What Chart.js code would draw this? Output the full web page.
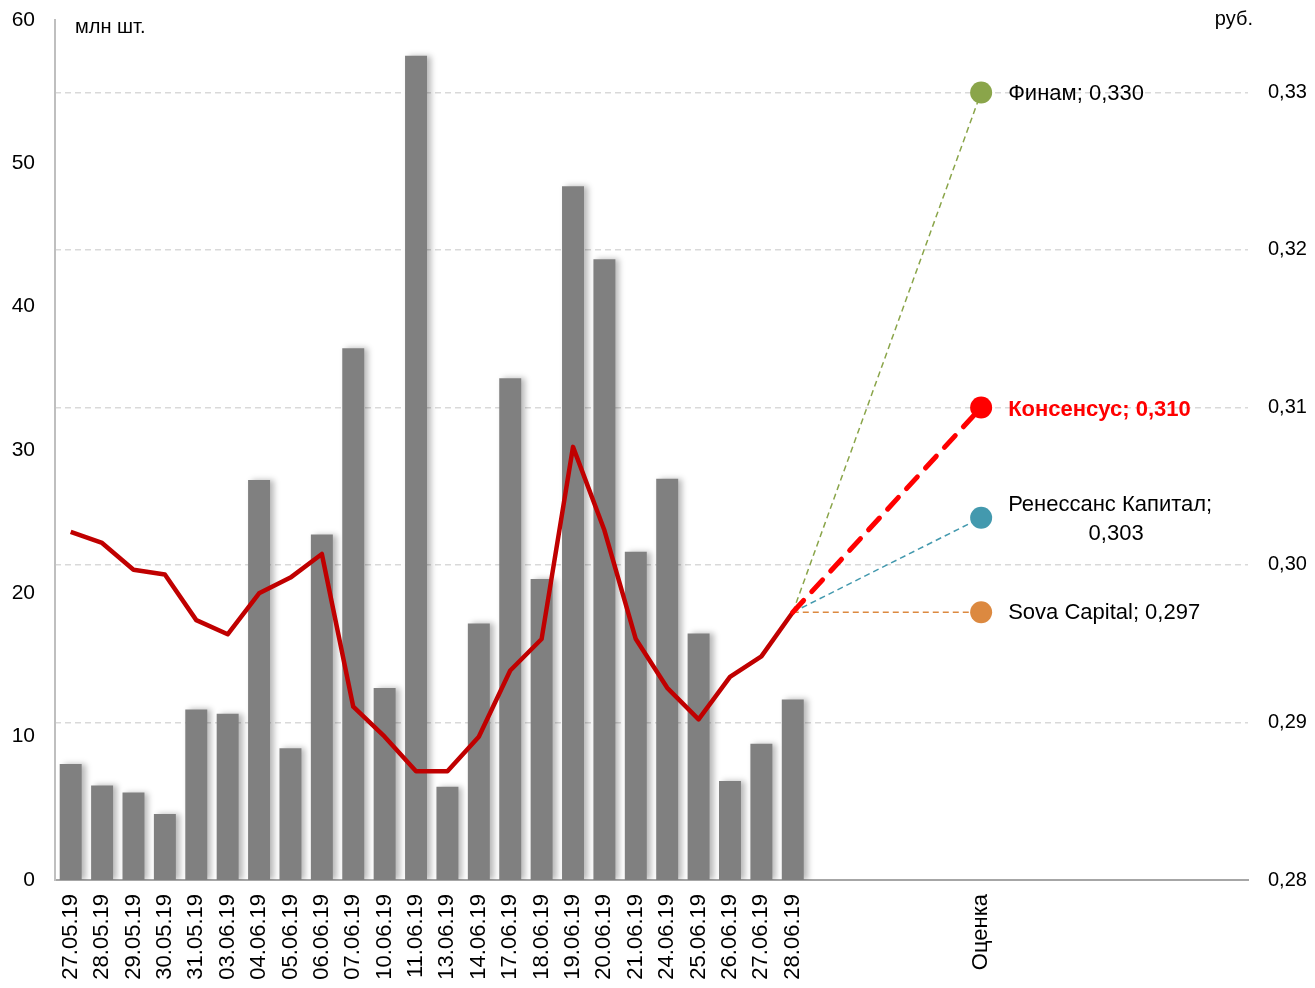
<!DOCTYPE html>
<html>
<head>
<meta charset="utf-8">
<script src="https://cdn.jsdelivr.net/npm/chart.js@4"></script>
<style>
  html, body { margin: 0; padding: 0; background: #fff; }
  #wrap { width: 1315px; height: 988px; }
</style>
</head>
<body>
<div id="wrap"><canvas id="chart" width="1315" height="988"></canvas></div>
<script>
// даты торгов + пустые слоты + "Оценка"
const dates = ['27.05.19', '28.05.19', '29.05.19', '30.05.19', '31.05.19', '03.06.19', '04.06.19', '05.06.19',
  '06.06.19', '07.06.19', '10.06.19', '11.06.19', '13.06.19', '14.06.19', '17.06.19', '18.06.19',
  '19.06.19', '20.06.19', '21.06.19', '24.06.19', '25.06.19', '26.06.19', '27.06.19', '28.06.19']
const labels = dates.concat(['', '', '', '', '', 'Оценка', '', '', '', '', '', '', '', ''])

// объём торгов, млн шт.
const volume = [8.1, 6.6, 6.1, 4.6, 11.9, 11.6, 27.9, 9.2, 24.1, 37.1, 13.4, 57.5, 6.5, 17.9, 35.0, 21.0,
  48.4, 43.3, 22.9, 28.0, 17.2, 6.9, 9.5, 12.6]
// цена, руб.
const price = [0.3021, 0.3014, 0.2997, 0.2994, 0.2965, 0.2956, 0.2982, 0.2992, 0.3007, 0.2910, 0.2891, 0.2869,
  0.2869, 0.2891, 0.2933, 0.2953, 0.3075, 0.3022, 0.2953, 0.2922, 0.2902, 0.2929, 0.2942, 0.2970]

// оценки аналитиков
const targetNames = ['Финам', 'Консенсус', 'Ренессанс Капитал', 'Sova Capital']
const targetValues = [0.330, 0.310, 0.303, 0.297]
const targetColors = ['#8AA54A', '#FF0000', '#4399AE', '#DC8940']
const rightTicks = [0.28, 0.29, 0.30, 0.31, 0.32, 0.33]

const estIdx = labels.indexOf('Оценка')
const lastIdx = dates.length - 1
const font = 'Liberation Sans, Arial, sans-serif'

function fmt(v, d) { return v.toFixed(d).replace('.', ',') }

const targetSets = targetNames.map((name, i) => {
  const data = labels.map(() => null)
  data[lastIdx] = price[lastIdx]
  data[estIdx] = targetValues[i]
  const radius = labels.map((l, j) => j === estIdx ? 11 : 0)
  const isCons = name === 'Консенсус'
  return {
    type: 'line',
    label: name,
    data: data,
    yAxisID: 'y1',
    spanGaps: true,
    borderColor: targetColors[i],
    backgroundColor: targetColors[i],
    borderWidth: isCons ? 5 : 1.5,
    borderDash: isCons ? [16, 12] : [6, 4],
    borderCapStyle: isCons ? 'round' : 'butt',
    pointRadius: radius,
    pointHoverRadius: radius,
    pointBorderWidth: 0,
    order: isCons ? 1 : 2
  }
})

// подписи у точек оценки и подписи осей
const textPlugin = {
  id: 'texts',
  afterDatasetsDraw(chart) {
    const c = chart.ctx
    const x = chart.scales.x
    const y1 = chart.scales.y1
    c.save()
    c.textBaseline = 'middle'
    c.textAlign = 'left'
    const px = x.getPixelForValue(estIdx) + 27
    targetNames.forEach((name, i) => {
      const py = y1.getPixelForValue(targetValues[i])
      if (name === 'Консенсус') {
        c.font = 'bold 22px ' + font
        c.fillStyle = '#FF0000'
        c.fillText(name + '; ' + fmt(targetValues[i], 3), px, py + 2)
      } else if (name === 'Ренессанс Капитал') {
        c.font = '22px ' + font
        c.fillStyle = '#000'
        c.fillText(name + ';', px, py - 13)
        c.textAlign = 'center'
        c.fillText(fmt(targetValues[i], 3), px + 108, py + 16)
        c.textAlign = 'left'
      } else {
        c.font = '22px ' + font
        c.fillStyle = '#000'
        c.fillText(name + '; ' + fmt(targetValues[i], 3), px, py + 1)
      }
    })
    c.font = '20px ' + font
    c.fillStyle = '#000'
    c.fillText('млн шт.', 75, 27)
    c.textAlign = 'right'
    c.fillText('руб.', 1253, 19)
    c.restore()
  }
}

// лёгкая тень у столбцов
const shadowPlugin = {
  id: 'barShadow',
  beforeDatasetDraw(chart, args) {
    if (args.index !== 0) return
    const c = chart.ctx
    c.save()
    c.shadowColor = 'rgba(0,0,0,0.28)'
    c.shadowBlur = 6
    c.shadowOffsetX = 4
    c.shadowOffsetY = 0
  },
  afterDatasetDraw(chart, args) {
    if (args.index !== 0) return
    chart.ctx.restore()
  }
}

new Chart(document.getElementById('chart'), {
  type: 'bar',
  data: {
    labels: labels,
    datasets: [{
      type: 'bar',
      label: 'Объём',
      data: volume,
      yAxisID: 'y',
      backgroundColor: '#808080',
      barPercentage: 0.7,
      categoryPercentage: 1,
      order: 5
    }, {
      type: 'line',
      label: 'Цена',
      data: price,
      yAxisID: 'y1',
      borderColor: '#C00000',
      borderWidth: 4.5,
      borderJoinStyle: 'round',
      pointRadius: 0,
      tension: 0,
      order: 3
    }].concat(targetSets)
  },
  plugins: [shadowPlugin, textPlugin],
  options: {
    responsive: false,
    animation: false,
    layout: { padding: 0 },
    plugins: {
      legend: { display: false },
      tooltip: { enabled: false }
    },
    scales: {
      x: {
        grid: { display: false },
        border: { color: '#A6A6A6', width: 2 },
        ticks: {
          autoSkip: false,
          maxRotation: 90,
          minRotation: 90,
          color: '#000',
          padding: 6,
          font: { family: font, size: 22 }
        },
        afterFit(s) { s.height = 108 }
      },
      y: {
        position: 'left',
        min: 0,
        max: 60,
        grid: { display: false },
        border: { color: '#BFBFBF', width: 2 },
        ticks: {
          stepSize: 10,
          color: '#000',
          padding: 12,
          font: { family: font, size: 21 }
        },
        afterFit(s) { s.width = 55; s.paddingTop = 20 }
      },
      y1: {
        position: 'right',
        min: 0.28,
        max: 0.3346,
        grid: { color: '#D9D9D9', lineWidth: 1.5, drawTicks: false },
        border: { display: false, dash: [6, 4] },
        afterBuildTicks(s) { s.ticks = rightTicks.map(v => ({ value: v })) },
        ticks: {
          color: '#000',
          padding: 20,
          font: { family: font, size: 20 },
          callback: v => fmt(v, 2)
        },
        afterFit(s) { s.width = 67; s.paddingTop = 20 }
      }
    }
  }
})
</script>
</body>
</html>
